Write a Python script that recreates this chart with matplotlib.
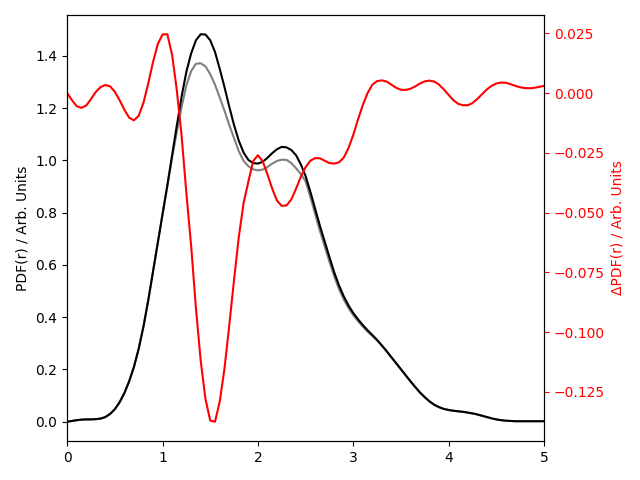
import numpy as np
import matplotlib
matplotlib.use('Agg')
import matplotlib.pyplot as plt
from matplotlib.ticker import MultipleLocator

# r grid, step 0.05
r = np.round(np.arange(0, 5.0001, 0.05), 2)

# total PDF (black)
pdf_black = [
    0.000, 0.003, 0.006, 0.008, 0.009, 0.009, 0.010, 0.012, 0.018, 0.030,
    0.048, 0.075, 0.110, 0.155, 0.210, 0.280, 0.365, 0.465, 0.575, 0.685,
    0.795, 0.905, 1.020, 1.135, 1.245, 1.340, 1.410, 1.460, 1.483, 1.482,
    1.460, 1.415, 1.350, 1.280, 1.205, 1.135, 1.075, 1.030, 1.002, 0.990,
    0.988, 0.995, 1.010, 1.028, 1.043, 1.052, 1.050, 1.040, 1.020, 0.985,
    0.940, 0.880, 0.815, 0.750, 0.690, 0.630, 0.572, 0.522, 0.480, 0.445,
    0.416, 0.392, 0.370, 0.350, 0.332, 0.313, 0.292, 0.270, 0.247, 0.224,
    0.201, 0.178, 0.155, 0.133, 0.112, 0.094, 0.078, 0.065, 0.056, 0.049,
    0.045, 0.042, 0.040, 0.038, 0.035, 0.032, 0.028, 0.023, 0.018, 0.013,
    0.009, 0.006, 0.004, 0.003, 0.002, 0.002, 0.002, 0.002, 0.002, 0.002,
    0.002,
]

# reference PDF (gray)
pdf_gray = [
    0.000, 0.003, 0.006, 0.008, 0.009, 0.009, 0.010, 0.012, 0.018, 0.030,
    0.048, 0.075, 0.110, 0.155, 0.210, 0.280, 0.365, 0.465, 0.575, 0.685,
    0.795, 0.900, 1.010, 1.110, 1.205, 1.288, 1.342, 1.370, 1.372, 1.360,
    1.330, 1.290, 1.240, 1.190, 1.135, 1.085, 1.035, 0.998, 0.978, 0.966,
    0.962, 0.965, 0.975, 0.988, 0.998, 1.003, 1.002, 0.990, 0.970, 0.948,
    0.920, 0.860, 0.795, 0.730, 0.672, 0.612, 0.557, 0.508, 0.468, 0.435,
    0.408, 0.385, 0.364, 0.345, 0.328, 0.311, 0.291, 0.269, 0.246, 0.223,
    0.200, 0.177, 0.154, 0.132, 0.111, 0.093, 0.077, 0.064, 0.055, 0.049,
    0.045, 0.042, 0.040, 0.038, 0.035, 0.032, 0.028, 0.023, 0.018, 0.013,
    0.009, 0.006, 0.004, 0.003, 0.002, 0.002, 0.002, 0.002, 0.002, 0.002,
    0.002,
]

# difference curve (red, right axis)
dpdf = [
    0.0000, -0.0030, -0.0055, -0.0062, -0.0052, -0.0025, 0.0005, 0.0025, 0.0034, 0.0028,
    0.0005, -0.0030, -0.0070, -0.0103, -0.0114, -0.0095, -0.0040, 0.0040, 0.0130, 0.0205,
    0.0245, 0.0246, 0.0160, 0.0010, -0.0180, -0.0420, -0.0640, -0.0900, -0.1120, -0.1280,
    -0.1370, -0.1375, -0.1290, -0.1150, -0.0970, -0.0780, -0.0600, -0.0460, -0.0370, -0.0285,
    -0.0260, -0.0285, -0.0340, -0.0400, -0.0450, -0.0472, -0.0470, -0.0445, -0.0400, -0.0350,
    -0.0310, -0.0283, -0.0272, -0.0273, -0.0283, -0.0293, -0.0295, -0.0290, -0.0270, -0.0230,
    -0.0175, -0.0110, -0.0050, 0.0000, 0.0035, 0.0050, 0.0053, 0.0048, 0.0035, 0.0022,
    0.0014, 0.0013, 0.0018, 0.0028, 0.0040, 0.0049, 0.0052, 0.0048, 0.0035, 0.0015,
    -0.0008, -0.0030, -0.0045, -0.0051, -0.0051, -0.0042, -0.0025, -0.0005, 0.0015, 0.0030,
    0.0040, 0.0044, 0.0043, 0.0037, 0.0030, 0.0024, 0.0021, 0.0020, 0.0022, 0.0026,
    0.0030,
]

fig, ax = plt.subplots(figsize=(6.4, 4.8), dpi=100)
ax.plot(r, pdf_gray, color='gray')
ax.plot(r, pdf_black, color='black')
ax.set_xlim(0, 5)
ax.set_ylabel('PDF(r) / Arb. Units')

ax2 = ax.twinx()
ax2.plot(r, dpdf, color='red')
ax2.set_ylabel('\u0394PDF(r) / Arb. Units', color='red')
ax2.tick_params(axis='y', colors='red')
ax2.yaxis.set_major_locator(MultipleLocator(0.025))

fig.subplots_adjust(left=0.105, right=0.85, top=0.969, bottom=0.081)
fig.savefig('out.png')
